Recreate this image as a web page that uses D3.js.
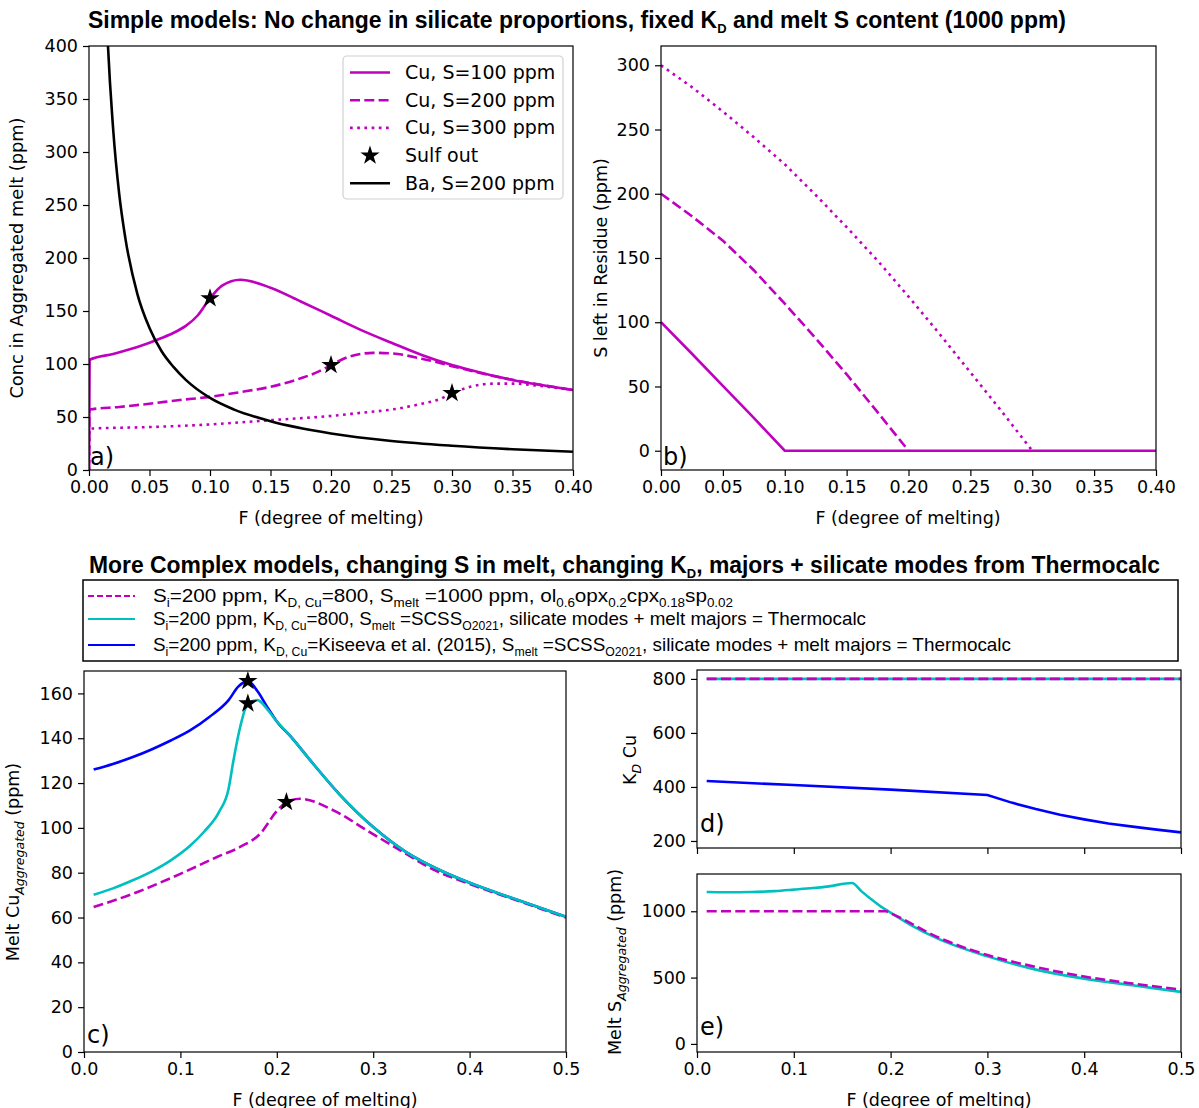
<!DOCTYPE html>
<html>
<head>
<meta charset="utf-8">
<script src="https://cdn.jsdelivr.net/npm/d3@7"></script>
<style>
  body { margin: 0; background: #fff; }
  svg text { fill: #000; }
</style>
</head>
<body>
<div id="chart"></div>
<script>
// ---------- data ----------
// panel a: Cu (and Ba) in aggregated melt vs F
const aF100 = [0, 0.0005, 0.02, 0.04, 0.06, 0.07, 0.08, 0.09, 0.1, 0.11, 0.125, 0.15, 0.175, 0.2, 0.225, 0.25, 0.275, 0.3, 0.325, 0.35, 0.375, 0.4];
const aCu100 = [0, 104, 109.5, 116, 124.5, 129.5, 136, 146, 162, 174, 179.5, 172, 159, 145.5, 132, 120, 108.5, 99, 91.5, 85, 80, 75.5];
const aF200 = [0, 0.0005, 0.025, 0.05, 0.075, 0.1, 0.125, 0.15, 0.175, 0.19, 0.2, 0.215, 0.235, 0.25, 0.275, 0.3, 0.325, 0.35, 0.375, 0.4];
const aCu200 = [0, 57, 59.5, 62.5, 66, 69, 73.5, 78.5, 86.5, 93, 99, 107, 110.5, 110, 105, 98, 91, 85, 80, 75.5];
const aF300 = [0, 0.0005, 0.05, 0.1, 0.15, 0.2, 0.225, 0.25, 0.275, 0.29, 0.3, 0.315, 0.335, 0.35, 0.375, 0.4];
const aCu300 = [0, 39, 40.5, 43, 47, 51, 54, 57, 62.5, 67, 72.5, 78.5, 81.5, 81.5, 79, 75.5];
const aFBa = [0.012, 0.015, 0.02, 0.025, 0.03, 0.04, 0.05, 0.06, 0.07, 0.08, 0.1, 0.12, 0.15, 0.2, 0.25, 0.3, 0.35, 0.4];
const aBa = [520, 418, 321, 260, 219, 166, 134, 112, 97, 85, 68, 57, 46, 34.5, 27.4, 22.9, 19.6, 17.2];
const starAF = [0.1, 0.2, 0.3];
const starAV = [162, 99, 72.5];

// panel b: S left in residue
const bF100 = [0, 0.025, 0.05, 0.075, 0.1, 0.4];
const bS100 = [100, 75.5, 50.5, 25.5, 0, 0];
const bF200 = [0, 0.025, 0.05, 0.075, 0.1, 0.125, 0.15, 0.175, 0.2];
const bS200 = [200, 182.5, 163.5, 140.5, 114.5, 87.5, 59.5, 30, 0];
const bF300 = [0, 0.025, 0.05, 0.075, 0.1, 0.125, 0.15, 0.175, 0.2, 0.225, 0.25, 0.275, 0.3];
const bS300 = [300, 283, 264, 244, 223, 199, 174, 148, 120, 91, 61, 31, 0];

// panel c: melt Cu aggregated
const cFMag = [0.01, 0.05, 0.1, 0.138, 0.162, 0.183, 0.2, 0.21, 0.224, 0.258, 0.293, 0.328, 0.362, 0.4, 0.45, 0.5];
const cCuMag = [64.7, 70.5, 79.5, 87, 91.5, 97.5, 107.5, 111.5, 113, 108, 99, 90, 81.5, 75, 67.5, 60];
const cFCyan = [0.01, 0.03, 0.05, 0.07, 0.09, 0.11, 0.125, 0.14, 0.15, 0.155, 0.162, 0.17, 0.18, 0.19, 0.2, 0.215, 0.235, 0.265, 0.3, 0.335, 0.37, 0.4, 0.45, 0.5];
const cCuCyan = [70.2, 73, 76.5, 80.5, 85.5, 92, 98.5, 107, 117.5, 130, 145, 155.5, 157, 153, 147.5, 140.5, 130, 115, 100.4, 89, 81, 75.5, 67.8, 60.3];
const cFBlue = [0.01, 0.03, 0.05, 0.07, 0.09, 0.11, 0.13, 0.15, 0.16, 0.17, 0.18, 0.19, 0.2, 0.215, 0.235, 0.265, 0.3, 0.335, 0.37, 0.4, 0.45, 0.5];
const cCuBlue = [126, 128.5, 131.5, 135, 139, 143.5, 149.5, 157, 163, 165.5, 161, 154, 147.5, 140.5, 130, 115, 100.4, 89, 81, 75.5, 67.8, 60.3];
const starCF = [0.17, 0.17, 0.21];
const starCV = [165.5, 155.5, 111.5];

// panel d: KD Cu
const dFConst = [0.01, 0.5];
const dKdConst = [800, 800];
const dFBlue = [0.01, 0.1, 0.2, 0.3, 0.325, 0.35, 0.375, 0.4, 0.425, 0.45, 0.475, 0.5];
const dKdBlue = [422, 407, 390, 370, 342, 318, 297, 280, 265, 253, 242, 232];

// panel e: melt S aggregated
const eFCyan = [0.01, 0.03, 0.056, 0.08, 0.1, 0.12, 0.136, 0.16, 0.17, 0.18, 0.19, 0.2, 0.22, 0.25, 0.3, 0.35, 0.4, 0.45, 0.5];
const eSCyan = [1145, 1143, 1145, 1152, 1163, 1175, 1188, 1213, 1150, 1090, 1035, 990, 900, 790, 660, 560, 492, 442, 392];
const eFMag = [0.01, 0.195, 0.2, 0.25, 0.3, 0.35, 0.4, 0.45, 0.5];
const eSMag = [1000, 1000, 985, 800, 670, 580, 508, 455, 410];

const MAG = "#bf00bf", CYAN = "#00bfbf", BLUE = "#0000ff";

// ---------- drawing ----------
const W = 1199, H = 1108;
const svg = d3.select("#chart").append("svg")
    .attr("width", W).attr("height", H)
    .style("font-family", "'DejaVu Sans', sans-serif");
svg.append("rect").attr("width", W).attr("height", H).attr("fill", "#fff");

function zip(xs, ys) { return xs.map((x, i) => [x, ys[i]]); }

function panel(o) {
    const x = d3.scaleLinear().domain(o.xd).range([o.l, o.r]);
    const y = d3.scaleLinear().domain(o.yd).range([o.b, o.t]);
    const g = svg.append("g");
    g.append("clipPath").attr("id", "clip-" + o.name)
        .append("rect").attr("x", o.l).attr("y", o.t)
        .attr("width", o.r - o.l).attr("height", o.b - o.t);
    const plot = g.append("g").attr("clip-path", `url(#clip-${o.name})`);

    const xa = g.append("g").attr("transform", `translate(0,${o.b})`)
        .call(d3.axisBottom(x).tickValues(o.xt).tickFormat(o.showX ? d3.format(o.xf) : "")
            .tickSize(6).tickPadding(5).tickSizeOuter(0));
    const ya = g.append("g").attr("transform", `translate(${o.l},0)`)
        .call(d3.axisLeft(y).tickValues(o.yt).tickFormat(d3.format("d"))
            .tickSize(6).tickPadding(5).tickSizeOuter(0));
    [xa, ya].forEach(a => {
        a.attr("font-family", null);
        a.select(".domain").remove();
        a.selectAll("line").attr("stroke", "#000").attr("stroke-width", 1.2);
        a.selectAll("text").attr("font-size", 17.5).attr("fill", "#000");
    });
    return { x, y, g, plot, o };
}

function frame(p) {
    const o = p.o;
    p.g.append("rect").attr("x", o.l).attr("y", o.t)
        .attr("width", o.r - o.l).attr("height", o.b - o.t)
        .attr("fill", "none").attr("stroke", "#000").attr("stroke-width", 1.2);
}

function drawLine(p, xs, ys, color, dash, curve) {
    const line = d3.line().x(d => p.x(d[0])).y(d => p.y(d[1])).curve(curve || d3.curveMonotoneX);
    p.plot.append("path").datum(zip(xs, ys))
        .attr("d", line).attr("fill", "none")
        .attr("stroke", color).attr("stroke-width", 2.6)
        .attr("stroke-dasharray", dash || null);
}

function drawStars(p, xs, ys) {
    const star = d3.symbol().type(d3.symbolStar).size(115);
    p.g.selectAll(null).data(zip(xs, ys)).enter().append("path")
        .attr("d", star)
        .attr("transform", d => `translate(${p.x(d[0])},${p.y(d[1])})`)
        .attr("fill", "#000");
}

function panelTag(p, t, x, y) {
    p.g.append("text").attr("x", x).attr("y", y).attr("font-size", 24).text(t);
}

// text with subscripts: parts = [[text, "sub"|"isub"|null], ...]
function richText(sel, parts, size, subSize, shift) {
    let off = 0;
    parts.forEach(([t, kind]) => {
        const want = kind ? shift : 0;
        const ts = sel.append("tspan").text(t)
            .attr("font-size", kind ? subSize : size);
        if (want !== off) ts.attr("dy", want - off);
        if (kind === "isub") ts.attr("font-style", "italic");
        off = want;
    });
}

const DASH = "10,4.3", DOT = "2.7,4.5";

// ---- panel a ----
const pa = panel({ name: "a", l: 89, r: 573, t: 46, b: 470, xd: [0, 0.4], yd: [0, 400],
    xt: d3.range(0, 0.401, 0.05), yt: d3.range(0, 401, 50), xf: ".2f", showX: true });
drawLine(pa, aF100, aCu100, MAG);
drawLine(pa, aF200, aCu200, MAG, DASH);
drawLine(pa, aF300, aCu300, MAG, DOT);
drawLine(pa, aFBa, aBa, "#000");
drawStars(pa, starAF, starAV);
frame(pa);
panelTag(pa, "a)", 90, 465);
pa.g.append("text").attr("x", 331).attr("y", 524).attr("text-anchor", "middle")
    .attr("font-size", 17.5).text("F (degree of melting)");
pa.g.append("text").attr("transform", "translate(23,258) rotate(-90)").attr("text-anchor", "middle")
    .attr("font-size", 17.8).text("Conc in Aggregated melt (ppm)");

// legend a
const legA = pa.g.append("g");
legA.append("rect").attr("x", 343).attr("y", 56).attr("width", 220).attr("height", 143)
    .attr("rx", 4).attr("fill", "#fff").attr("fill-opacity", 0.85)
    .attr("stroke", "#d0d0d0").attr("stroke-width", 1.2);
const legAItems = [
    ["Cu, S=100 ppm", MAG, null, "line"],
    ["Cu, S=200 ppm", MAG, DASH, "line"],
    ["Cu, S=300 ppm", MAG, DOT, "line"],
    ["Sulf out", "#000", null, "star"],
    ["Ba, S=200 ppm", "#000", null, "line"]
];
legAItems.forEach((it, i) => {
    const cy = 72.5 + i * 27.7;
    if (it[3] === "line") {
        legA.append("line").attr("x1", 350).attr("x2", 390).attr("y1", cy).attr("y2", cy)
            .attr("stroke", it[1]).attr("stroke-width", 2.6).attr("stroke-dasharray", it[2]);
    } else {
        legA.append("path").attr("d", d3.symbol().type(d3.symbolStar).size(115))
            .attr("transform", `translate(370,${cy})`).attr("fill", "#000");
    }
    legA.append("text").attr("x", 405).attr("y", cy + 6.5).attr("font-size", 19).text(it[0]);
});

// ---- panel b ----
const pb = panel({ name: "b", l: 661, r: 1156, t: 46, b: 470, xd: [0, 0.4], yd: [-15, 315],
    xt: d3.range(0, 0.401, 0.05), yt: d3.range(0, 301, 50), xf: ".2f", showX: true });
drawLine(pb, bF300, bS300, MAG, DOT, d3.curveLinear);
drawLine(pb, bF200, bS200, MAG, DASH, d3.curveLinear);
drawLine(pb, bF100, bS100, MAG, null, d3.curveLinear);
frame(pb);
panelTag(pb, "b)", 663, 465);
pb.g.append("text").attr("x", 908).attr("y", 524).attr("text-anchor", "middle")
    .attr("font-size", 17.5).text("F (degree of melting)");
pb.g.append("text").attr("transform", "translate(607,258) rotate(-90)").attr("text-anchor", "middle")
    .attr("font-size", 17.5).text("S left in Residue (ppm)");

// ---- titles ----
const TF = "'Liberation Sans Narrow','Arial Narrow','Liberation Sans',Arial,sans-serif";
const t1 = svg.append("text").attr("x", 88).attr("y", 28)
    .style("font-family", TF).attr("font-weight", "bold")
    .attr("textLength", 978).attr("lengthAdjust", "spacingAndGlyphs");
richText(t1, [["Simple models: No change in silicate proportions, fixed K", null], ["D", "sub"],
    [" and melt S content (1000 ppm)", null]], 23, 13, 5);
const t2 = svg.append("text").attr("x", 89).attr("y", 573)
    .style("font-family", TF).attr("font-weight", "bold")
    .attr("textLength", 1071).attr("lengthAdjust", "spacingAndGlyphs");
richText(t2, [["More Complex models, changing S in melt, changing K", null], ["D", "sub"],
    [", majors + silicate modes from Thermocalc", null]], 23, 13, 5);

// ---- bottom legend ----
const LF = "'Liberation Sans',Arial,sans-serif";
const legB = svg.append("g");
legB.append("rect").attr("x", 83).attr("y", 580).attr("width", 1095).attr("height", 81)
    .attr("fill", "#fff").attr("stroke", "#000").attr("stroke-width", 1.5);
const legBItems = [
    [MAG, DASH, [["S", null], ["i", "sub"], ["=200 ppm, K", null], ["D, Cu", "sub"], ["=800, S", null], ["melt", "sub"],
        [" =1000 ppm, ol", null], ["0.6", "sub"], ["opx", null], ["0.2", "sub"], ["cpx", null], ["0.18", "sub"],
        ["sp", null], ["0.02", "sub"]]],
    [CYAN, null, [["S", null], ["i", "sub"], ["=200 ppm, K", null], ["D, Cu", "sub"], ["=800, S", null], ["melt", "sub"],
        [" =SCSS", null], ["O2021", "sub"], [", silicate modes + melt majors = Thermocalc", null]]],
    [BLUE, null, [["S", null], ["i", "sub"], ["=200 ppm, K", null], ["D, Cu", "sub"], ["=Kiseeva et al. (2015), S", null],
        ["melt", "sub"], [" =SCSS", null], ["O2021", "sub"], [", silicate modes + melt majors = Thermocalc", null]]]
];
const legBY = [596, 619, 645];
const legBLen = [580, 713, 858];
legBItems.forEach((it, i) => {
    const cy = legBY[i];
    legB.append("line").attr("x1", 88).attr("x2", 135).attr("y1", cy).attr("y2", cy)
        .attr("stroke", it[0]).attr("stroke-width", 1.8).attr("stroke-dasharray", it[1] ? "6,3" : null);
    const t = legB.append("text").attr("x", 153).attr("y", cy + 6).style("font-family", LF)
        .attr("textLength", legBLen[i]).attr("lengthAdjust", "spacingAndGlyphs");
    richText(t, it[2], 18.5, 12, 5);
});

// ---- panel c ----
const pc = panel({ name: "c", l: 84, r: 566, t: 671, b: 1052, xd: [0, 0.5], yd: [0, 170],
    xt: d3.range(0, 0.501, 0.1), yt: d3.range(0, 161, 20), xf: ".1f", showX: true });
drawLine(pc, cFMag, cCuMag, MAG, DASH);
drawLine(pc, cFBlue, cCuBlue, BLUE);
drawLine(pc, cFCyan, cCuCyan, CYAN);
drawStars(pc, starCF, starCV);
frame(pc);
panelTag(pc, "c)", 87, 1043);
pc.g.append("text").attr("x", 325).attr("y", 1106).attr("text-anchor", "middle")
    .attr("font-size", 17.5).text("F (degree of melting)");
const cyl = pc.g.append("text").attr("transform", "translate(19,862) rotate(-90)").attr("text-anchor", "middle");
richText(cyl, [["Melt Cu", null], ["Aggregated", "isub"], [" (ppm)", null]], 17.5, 12.5, 5);

// ---- panel d ----
const pd = panel({ name: "d", l: 697, r: 1181, t: 670, b: 848, xd: [0, 0.5], yd: [174, 833],
    xt: d3.range(0, 0.501, 0.1), yt: [200, 400, 600, 800], xf: ".1f", showX: false });
drawLine(pd, dFConst, dKdConst, CYAN, null, d3.curveLinear);
drawLine(pd, dFConst, dKdConst, MAG, DASH, d3.curveLinear);
drawLine(pd, dFBlue, dKdBlue, BLUE, null, d3.curveLinear);
frame(pd);
panelTag(pd, "d)", 700, 832);
const dyl = pd.g.append("text").attr("transform", "translate(636,760) rotate(-90)").attr("text-anchor", "middle");
richText(dyl, [["K", null], ["D", "isub"], [" Cu", null]], 17.5, 12.5, 5);

// ---- panel e ----
const pe = panel({ name: "e", l: 697, r: 1181, t: 874, b: 1052, xd: [0, 0.5], yd: [-61, 1281],
    xt: d3.range(0, 0.501, 0.1), yt: [0, 500, 1000], xf: ".1f", showX: true });
drawLine(pe, eFCyan, eSCyan, CYAN);
drawLine(pe, eFMag, eSMag, MAG, DASH);
frame(pe);
panelTag(pe, "e)", 700, 1035);
pe.g.append("text").attr("x", 939).attr("y", 1106).attr("text-anchor", "middle")
    .attr("font-size", 17.5).text("F (degree of melting)");
const eyl = pe.g.append("text").attr("transform", "translate(621,962) rotate(-90)").attr("text-anchor", "middle");
richText(eyl, [["Melt S", null], ["Aggregated", "isub"], ["  (ppm)", null]], 17.5, 12.5, 5);
</script>
</body>
</html>
